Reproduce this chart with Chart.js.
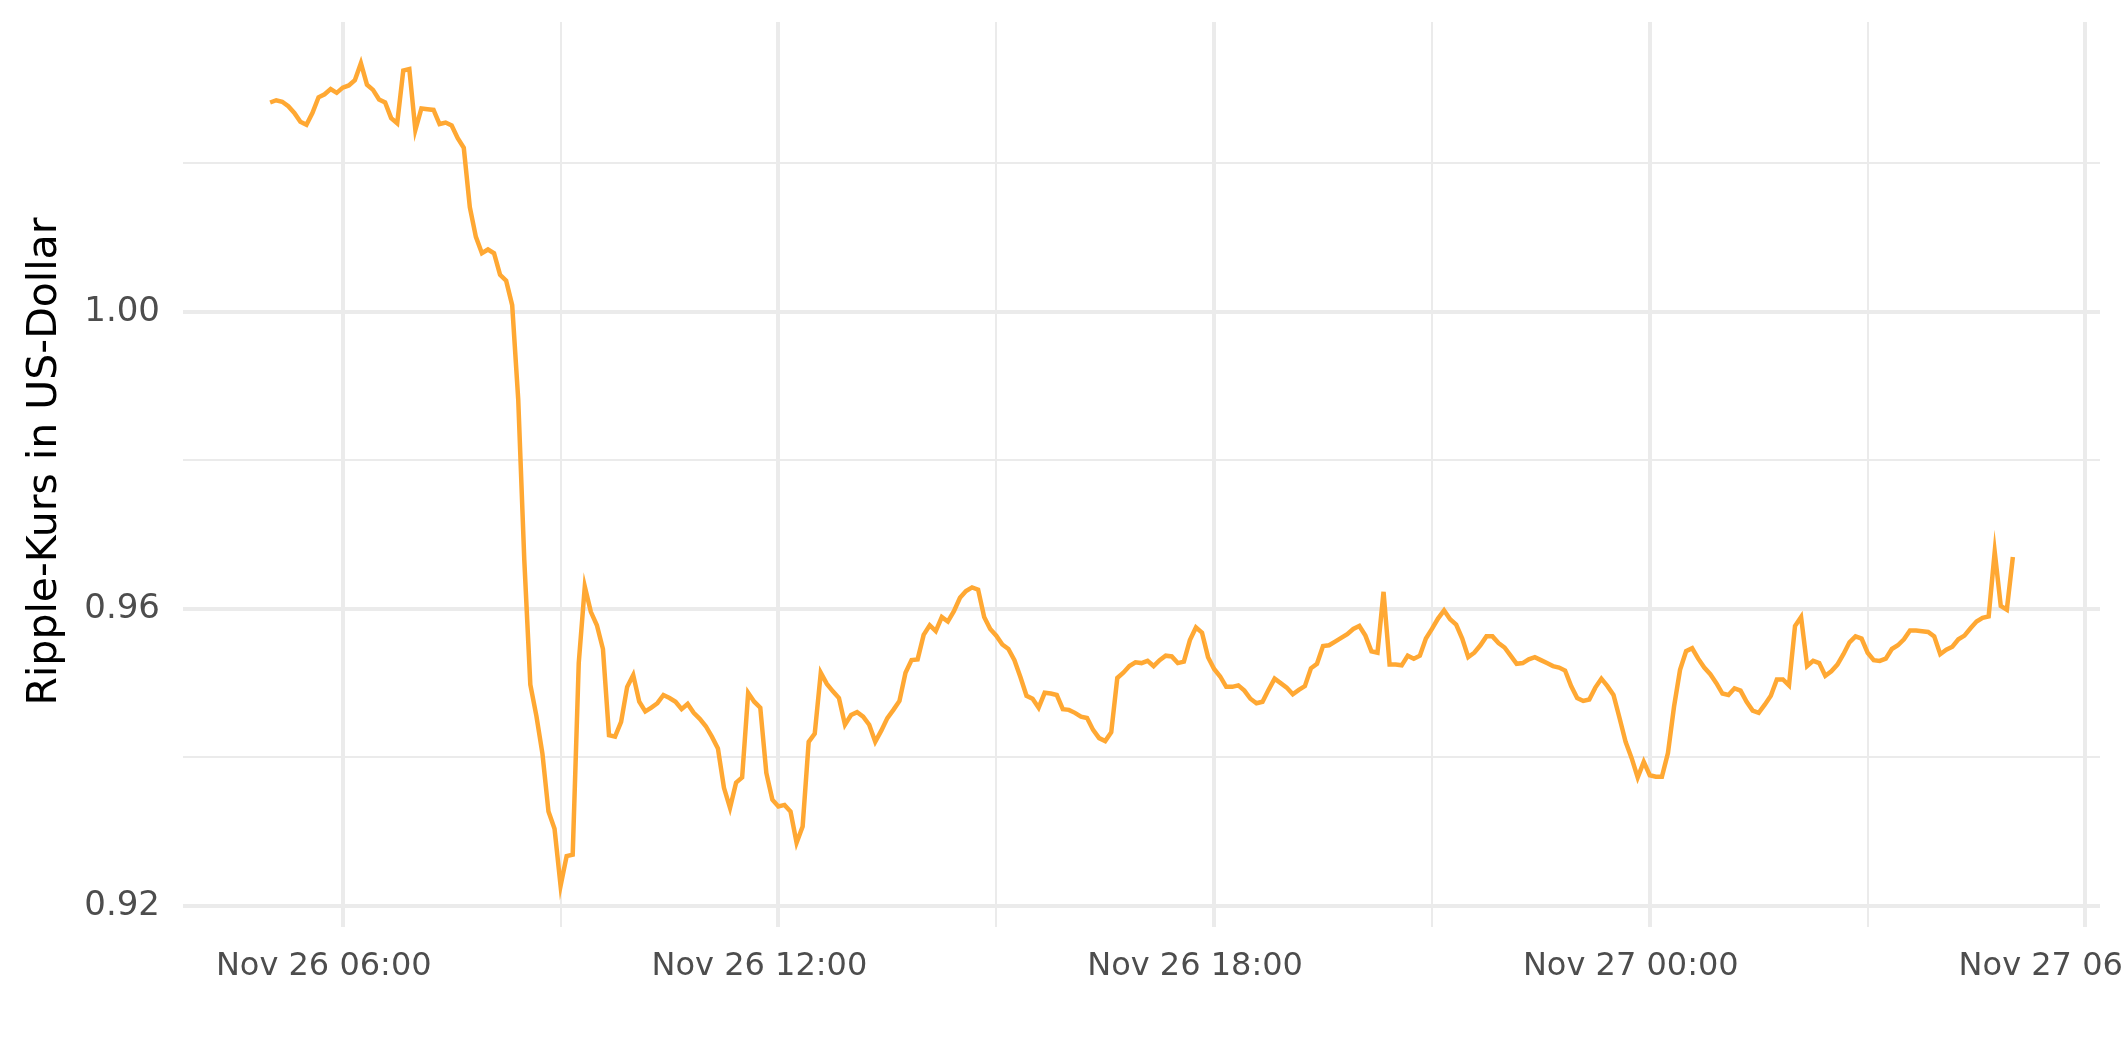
<!DOCTYPE html>
<html>
<head>
<meta charset="utf-8">
<script src="https://cdn.jsdelivr.net/npm/chart.js@4.4.1/dist/chart.umd.min.js"></script>
<style>
  html, body { margin: 0; padding: 0; background: #fff; overflow: hidden; }
  canvas { display: block; }
</style>
</head>
<body>
<canvas id="xrpChart" width="2300" height="1062"></canvas>
<script>
// Ripple (XRP) price in USD, 5-minute steps from Nov 26 05:00 to Nov 27 05:00
const startHour = 5
const stepMinutes = 5
const prices = [
  1.0282, 1.0285, 1.0283, 1.0277, 1.0268, 1.0256, 1.0252, 1.0268, 1.0289, 1.0293,
  1.0300, 1.0295, 1.0302, 1.0305, 1.0312, 1.0335, 1.0306, 1.0299, 1.0286, 1.0282,
  1.0261, 1.0254, 1.0325, 1.0327, 1.0245, 1.0274, 1.0273, 1.0272, 1.0253, 1.0255,
  1.0251, 1.0234, 1.0221, 1.0141, 1.0101, 1.0079, 1.0084, 1.0079, 1.0050, 1.0042,
  1.0009, 0.9882, 0.9666, 0.9498, 0.9456, 0.9405, 0.9327, 0.9304, 0.9227, 0.9267,
  0.9269, 0.9527, 0.9630, 0.9596, 0.9578, 0.9546, 0.9430, 0.9428, 0.9448, 0.9495,
  0.9511, 0.9475, 0.9462, 0.9467, 0.9473, 0.9484, 0.9480, 0.9475, 0.9465, 0.9472,
  0.9460, 0.9452, 0.9442, 0.9428, 0.9412, 0.9359, 0.9332, 0.9366, 0.9373, 0.9487,
  0.9475, 0.9467, 0.9379, 0.9343, 0.9334, 0.9336, 0.9327, 0.9285, 0.9307, 0.9421,
  0.9432, 0.9514, 0.9499, 0.9489, 0.9480, 0.9444, 0.9457, 0.9461, 0.9455, 0.9444,
  0.9421, 0.9436, 0.9453, 0.9464, 0.9476, 0.9514, 0.9531, 0.9532, 0.9565, 0.9578,
  0.9570, 0.9589, 0.9583, 0.9597, 0.9615, 0.9624, 0.9629, 0.9626, 0.9589, 0.9573,
  0.9564, 0.9552, 0.9546, 0.9531, 0.9508, 0.9483, 0.9479, 0.9467, 0.9487, 0.9486,
  0.9484, 0.9465, 0.9464, 0.9460, 0.9455, 0.9453, 0.9437, 0.9426, 0.9422, 0.9434,
  0.9507, 0.9514, 0.9523, 0.9528, 0.9527, 0.9530, 0.9523, 0.9531, 0.9537, 0.9536,
  0.9527, 0.9529, 0.9558, 0.9575, 0.9568, 0.9535, 0.9519, 0.9509, 0.9495, 0.9495,
  0.9497, 0.9490, 0.9479, 0.9473, 0.9475, 0.9491, 0.9506, 0.9500, 0.9494, 0.9485,
  0.9491, 0.9496, 0.9520, 0.9526, 0.9550, 0.9551, 0.9556, 0.9561, 0.9566, 0.9573,
  0.9577, 0.9564, 0.9543, 0.9541, 0.9623, 0.9525, 0.9525, 0.9524, 0.9537, 0.9533,
  0.9537, 0.9560, 0.9573, 0.9587, 0.9598, 0.9586, 0.9579, 0.9560, 0.9535, 0.9541,
  0.9551, 0.9563, 0.9563, 0.9554, 0.9548, 0.9537, 0.9526, 0.9527, 0.9532, 0.9535,
  0.9531, 0.9527, 0.9523, 0.9521, 0.9517, 0.9496, 0.9480, 0.9476, 0.9478, 0.9494,
  0.9506, 0.9496, 0.9484, 0.9453, 0.9421, 0.9399, 0.9373, 0.9394, 0.9376, 0.9374,
  0.9374, 0.9406, 0.9468, 0.9518, 0.9543, 0.9547, 0.9533, 0.9521, 0.9512, 0.9500,
  0.9486, 0.9484, 0.9493, 0.9490, 0.9475, 0.9463, 0.9460, 0.9471, 0.9483, 0.9505,
  0.9505, 0.9497, 0.9577, 0.9589, 0.9523, 0.9530, 0.9527, 0.9510, 0.9516, 0.9525,
  0.9539, 0.9555, 0.9563, 0.9560, 0.9541, 0.9531, 0.9530, 0.9533, 0.9546, 0.9551,
  0.9559, 0.9571, 0.9571, 0.9570, 0.9569, 0.9563, 0.9539, 0.9545, 0.9549, 0.9559,
  0.9564, 0.9574, 0.9583, 0.9588, 0.9590, 0.9677, 0.9604, 0.9599, 0.9670
]

// x axis: hours since Nov 26 00:00
const xTicks = [6, 9, 12, 15, 18, 21, 24, 27, 30]
const xTickLabels = {
  6: "Nov 26 06:00",
  12: "Nov 26 12:00",
  18: "Nov 26 18:00",
  24: "Nov 27 00:00",
  30: "Nov 27 06:00"
}
const yTicks = [0.92, 0.94, 0.96, 0.98, 1.00, 1.02]
const yTickLabels = [0.92, 0.96, 1.00]

const points = prices.map((p, i) => ({ x: startHour + i * stepMinutes / 60, y: p }))

// ggplot-like 5% expansion
const xFirst = points[0].x
const xLast = points[points.length - 1].x
const xPad = (xLast - xFirst) * 0.05
const yMin = Math.min(...prices)
const yMax = Math.max(...prices)
const yPad = (yMax - yMin) * 0.05

const gridColor = "#EBEBEB"
const isMajorX = v => Math.abs(v % 6) < 1e-6
const isMajorY = v => yTickLabels.some(t => Math.abs(t - v) < 1e-6)

new Chart(document.getElementById("xrpChart"), {
  type: "line",
  data: {
    datasets: [{
      label: "XRP",
      data: points,
      borderColor: "#FFA833",
      borderWidth: 4.5,
      pointRadius: 0,
      tension: 0,
      fill: false
    }]
  },
  options: {
    responsive: false,
    animation: false,
    devicePixelRatio: 1,
    layout: { padding: { left: 0, right: 200, top: 22, bottom: 0 } },
    plugins: {
      legend: { display: false },
      tooltip: { enabled: false }
    },
    scales: {
      x: {
        type: "linear",
        min: xFirst - xPad,
        max: xLast + xPad,
        afterBuildTicks: scale => { scale.ticks = xTicks.map(v => ({ value: v })) },
        afterFit: scale => {
          scale.height = 1062 - 927
          scale.paddingLeft = 0
          scale.paddingRight = 0
        },
        grid: {
          color: gridColor,
          lineWidth: ctx => (ctx.tick && isMajorX(ctx.tick.value)) ? 4 : 2,
          drawTicks: false
        },
        border: { display: false },
        ticks: {
          autoSkip: false,
          maxRotation: 0,
          padding: 20,
          labelOffset: -19,
          color: "#4D4D4D",
          font: { family: "DejaVu Sans", size: 32 },
          callback: v => xTickLabels[v] || ""
        }
      },
      y: {
        type: "linear",
        min: yMin - yPad,
        max: yMax + yPad,
        afterBuildTicks: scale => { scale.ticks = yTicks.map(v => ({ value: v })) },
        afterFit: scale => {
          scale.width = 183
          scale.paddingTop = 0
          scale.paddingBottom = 0
        },
        grid: {
          color: gridColor,
          lineWidth: ctx => (ctx.tick && isMajorY(ctx.tick.value)) ? 4 : 2,
          drawTicks: false
        },
        border: { display: false },
        ticks: {
          autoSkip: false,
          padding: 23,
          color: "#4D4D4D",
          font: { family: "DejaVu Sans", size: 34 },
          callback: v => isMajorY(v) ? v.toFixed(2) : ""
        },
        title: {
          display: true,
          text: "\u00A0\u00A0Ripple-Kurs in US-Dollar",
          color: "#000000",
          font: { family: "DejaVu Sans", size: 41 },
          padding: { top: 21, bottom: 0 }
        }
      }
    }
  }
})
</script>
</body>
</html>
